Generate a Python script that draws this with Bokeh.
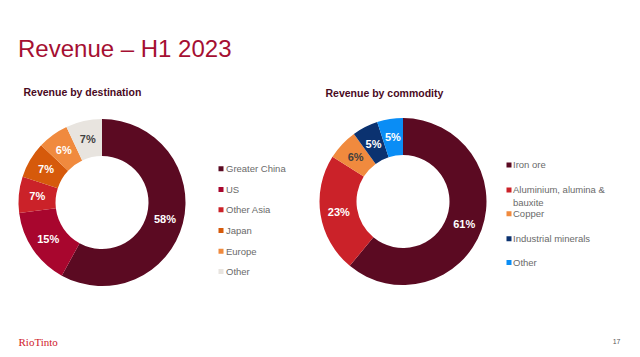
import math
from bokeh.plotting import figure
from bokeh.models import Range1d, ColumnDataSource
from bokeh.core.properties import value
from bokeh.embed import file_html
from bokeh.resources import INLINE

# ---- data ----
dest_labels = ["Greater China", "US", "Other Asia", "Japan", "Europe", "Other"]
dest_values = [58, 15, 7, 7, 6, 7]
dest_colors = ["#5B0A22", "#A8062E", "#CB2229", "#D65A0B", "#F08A3E", "#E8E4DF"]
dest_text_colors = ["white", "white", "white", "white", "white", "#3F3F3F"]

comm_labels = ["Iron ore", "Aluminium, alumina &\nbauxite", "Copper", "Industrial minerals", "Other"]
comm_values = [61, 23, 6, 5, 5]
comm_colors = ["#5B0A22", "#CB2229", "#F08A3E", "#0B3270", "#0A8DF5"]
comm_text_colors = ["white", "white", "#3F3F3F", "white", "white"]

W, H = 636, 352
FONT = "Liberation Sans"

def X(px):
    return px

def Y(py):
    return H - py

p = figure(width=W, height=H, x_range=Range1d(0, W), y_range=Range1d(0, H),
           output_backend="svg", toolbar_location=None, min_border=0)
p.axis.visible = False
p.grid.visible = False
p.outline_line_color = None
p.background_fill_color = "white"


def donut(cx, cy, vals, cols, tcols, r_in=46.5, r_out=83.5, r_lab=65):
    total = float(sum(vals))
    starts, ends, lx, ly = [], [], [], []
    cum = 0.0
    for v in vals:
        a0 = math.pi / 2 - 2 * math.pi * cum / total
        cum += v
        a1 = math.pi / 2 - 2 * math.pi * cum / total
        starts.append(a0)
        ends.append(a1)
        am = (a0 + a1) / 2
        lx.append(X(cx) + r_lab * math.cos(am))
        ly.append(Y(cy) + r_lab * math.sin(am))
    src = ColumnDataSource(dict(s=starts, e=ends, c=cols,
                                x=[X(cx)] * len(vals), y=[Y(cy)] * len(vals)))
    p.annular_wedge(x="x", y="y", inner_radius=r_in, outer_radius=r_out,
                    start_angle="s", end_angle="e", direction="clock",
                    fill_color="c", line_color=None, source=src)
    lsrc = ColumnDataSource(dict(x=lx, y=ly, t=[f"{v}%" for v in vals], c=tcols))
    p.text(x="x", y="y", text="t", text_color="c", source=lsrc,
           text_font=value(FONT), text_font_style="bold", text_font_size="11px",
           text_align="center", text_baseline="middle")


donut(101.5, 202, dest_values, dest_colors, dest_text_colors)
donut(402.5, 201, comm_values, comm_colors, comm_text_colors)

# ---- legends ----
def legend(sq_x, tx, ys, labels, cols):
    p.rect(x=[X(sq_x)] * len(labels), y=[Y(y) for y in ys], width=5, height=5,
           fill_color=cols, line_color=None)
    p.text(x=[X(tx)] * len(labels), y=[Y(y) for y in ys], text=labels,
           text_color="#6A6A6A", text_font=value(FONT), text_font_size="9.5px",
           text_align="left", text_baseline="middle", text_line_height=1.05)

legend(220.5, 225.5, [168.3, 189, 209.3, 230, 250.7, 271], dest_labels, dest_colors)

# second legend: the two-line item is anchored at its first line
p.rect(x=[X(508.5)] * 5, y=[Y(y) for y in [164.5, 189.5, 213.3, 238.3, 262]],
       width=5, height=5, fill_color=comm_colors, line_color=None)
p.text(x=[X(512.5)] * 5, y=[Y(y) for y in [164.5, 189.5, 213.3, 238.3, 262]],
       text=comm_labels, text_color="#6A6A6A", text_font=value(FONT),
       text_font_size="9.5px", text_align="left", text_baseline="top",
       y_offset=-6, text_line_height=1.15)

# ---- titles ----
p.text(x=[X(17.5)], y=[Y(48)], text=["Revenue \u2013 H1 2023"], text_color="#A50F32",
       text_font=value(FONT), text_font_size="24px", text_baseline="alphabetic")
p.text(x=[X(23)], y=[Y(91)], text=["Revenue by destination"], text_color="#4A0A1E",
       text_font=value(FONT), text_font_style="bold", text_font_size="10.5px",
       text_baseline="middle")
p.text(x=[X(325)], y=[Y(92.5)], text=["Revenue by commodity"], text_color="#4A0A1E",
       text_font=value(FONT), text_font_style="bold", text_font_size="10.5px",
       text_baseline="middle")

# ---- footer ----
p.text(x=[X(18)], y=[Y(341)], text=["RioTinto"], text_color="#D0202A",
       text_font=value("Liberation Serif"), text_font_size="11px",
       text_baseline="middle")
p.text(x=[X(620)], y=[Y(341)], text=["17"], text_color="#595959",
       text_font=value(FONT), text_font_size="7px", text_align="right",
       text_baseline="middle")

open("out.html", "w").write(file_html(p, INLINE))
